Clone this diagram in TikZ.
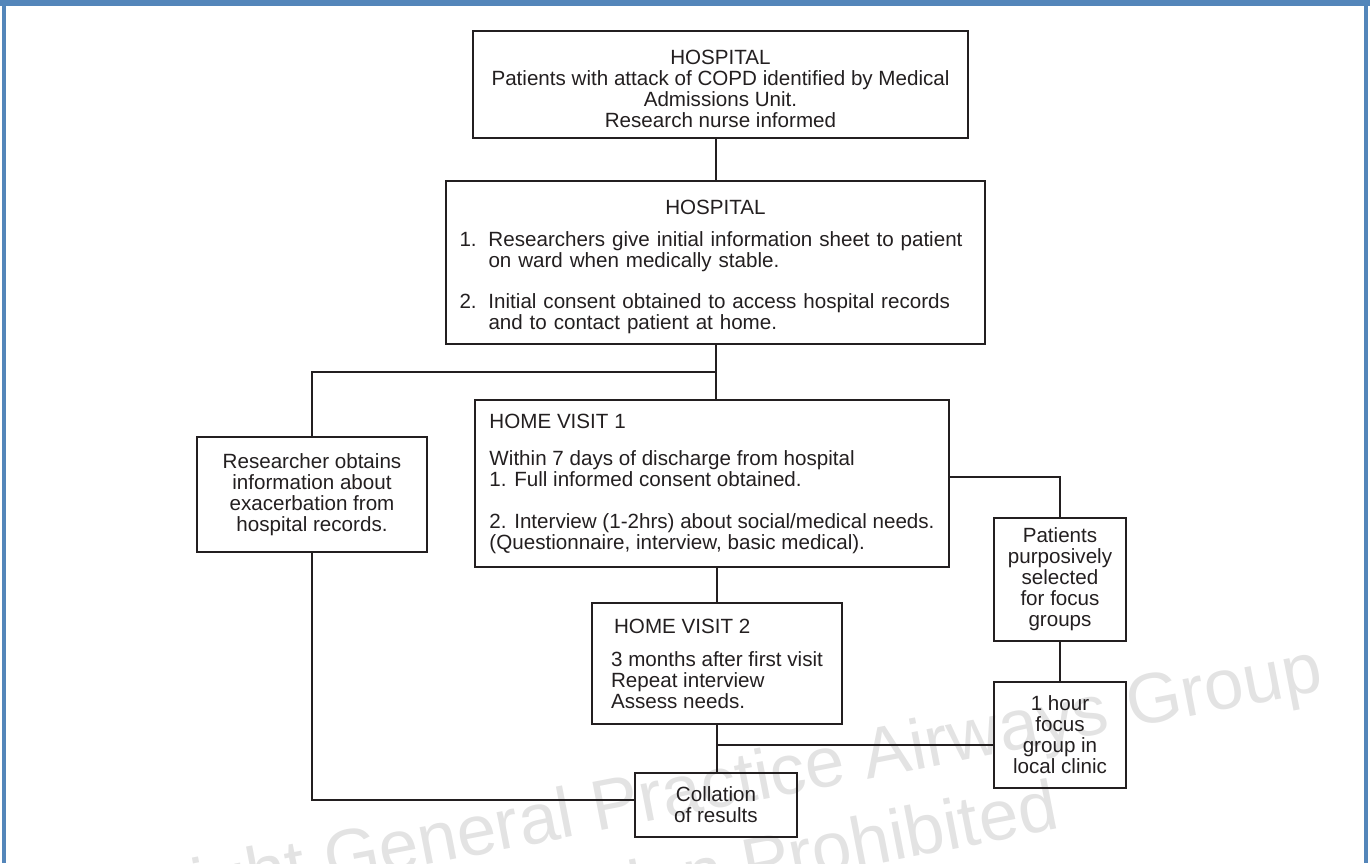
\documentclass[tikz,border=0pt]{standalone}
\usepackage{fontspec}
\setmainfont{Liberation Sans}
\usetikzlibrary{positioning,calc}
\definecolor{frameblue}{RGB}{84,134,186}
\definecolor{ink}{RGB}{35,31,32}

\begin{document}
\begin{tikzpicture}[x=0.5pt,y=-0.5pt,line width=1pt]
\tikzstyle{box}=[draw=ink,text=ink,line width=1pt,inner sep=0pt,font=\fontsize{10.3}{10.5}\selectfont]
\tikzstyle{link}=[draw=ink,line width=1pt]
\tikzstyle{wmark}=[text=black!11,font=\fontsize{35.5}{38}\selectfont,rotate=11,inner sep=0pt,anchor=base east]
\useasboundingbox (0,0) rectangle (1370,863);
\begin{scope}
\clip (0,0) rectangle (1370,863);
\node[wmark] (W1) at (1326,690) {Copyright General Practice Airways Group};
\node[wmark] (W2) at (1062,828) {Reproduction Prohibited};
\end{scope}
\fill[frameblue] (0,0) rectangle (1370,6);
\fill[frameblue] (2,0) rectangle (6,863);
\fill[frameblue] (1364,0) rectangle (1368,863);

\node[box,minimum width=247.5pt,minimum height=53.5pt,align=center] (H1) at (720.5,84.5)
  {\rule{0pt}{12pt}HOSPITAL\\Patients with attack of COPD identified by Medical\\Admissions Unit.\\Research nurse informed};
\node[box,minimum width=269.5pt,minimum height=81.5pt,text width=256pt,align=left] (H2) at (715.5,262.5)
  {{\centering\rule{0pt}{11.5pt}HOSPITAL\par}\vspace{5.5pt}
   \makebox[14.5pt][l]{1.}Researchers give initial information sheet to patient\\
   \hspace*{14.5pt}on ward when medically stable.\par\vspace{10pt}
   \makebox[14.5pt][l]{2.}Initial consent obtained to access hospital records\\
   \hspace*{14.5pt}and to contact patient at home.};
\node[box,minimum width=115pt,minimum height=57.5pt,align=center] (R) at (312,494.5)
  {Researcher obtains\\information about\\exacerbation from\\hospital records.};
\node[box,minimum width=237pt,minimum height=83.5pt,align=left] (V1) at (712,483.5)
  {HOME VISIT 1\\[8pt]Within 7 days of discharge from hospital\\1. Full informed consent obtained.\\[10.5pt]
   2. Interview (1-2hrs) about social/medical needs.\\(Questionnaire, interview, basic medical).};
\node[box,minimum width=66pt,minimum height=61.5pt,align=center] (P) at (1060,579.5)
  {Patients\\purposively\\selected\\for focus\\groups};
\node[box,minimum width=125pt,minimum height=60.5pt,align=left] (V2) at (717,663.5)
  {\hspace*{1.5pt}HOME VISIT 2\\[6pt]3 months after first visit\\Repeat interview\\Assess needs.};
\node[box,minimum width=66pt,minimum height=53pt,align=center] (F) at (1060,735)
  {1 hour\\focus\\group in\\local clinic};
\node[box,minimum width=81pt,minimum height=32pt,align=center] (C) at (716,805)
  {Collation\\of results};

\coordinate (split) at (H2.south |- 0,372);
\coordinate (merge) at (V2.south |- 0,745);
\draw[link] (H1.south -| H2.north) -- (H2.north);
\draw[link] (H2.south) -- (V1.north -| H2.south);
\draw[link] (split) -| (R.north);
\draw[link] (R.south) |- ([yshift=2.5pt]C.west);
\draw[link] ([yshift=3.25pt]V1.east) -| (P.north);
\draw[link] (V1.south -| V2.north) -- (V2.north);
\draw[link] (P.south) -- (P.south |- F.north);
\draw[link] (V2.south) -- (C.north -| V2.south);
\draw[link] (merge) -- (merge -| F.west);
\end{tikzpicture}
\end{document}
